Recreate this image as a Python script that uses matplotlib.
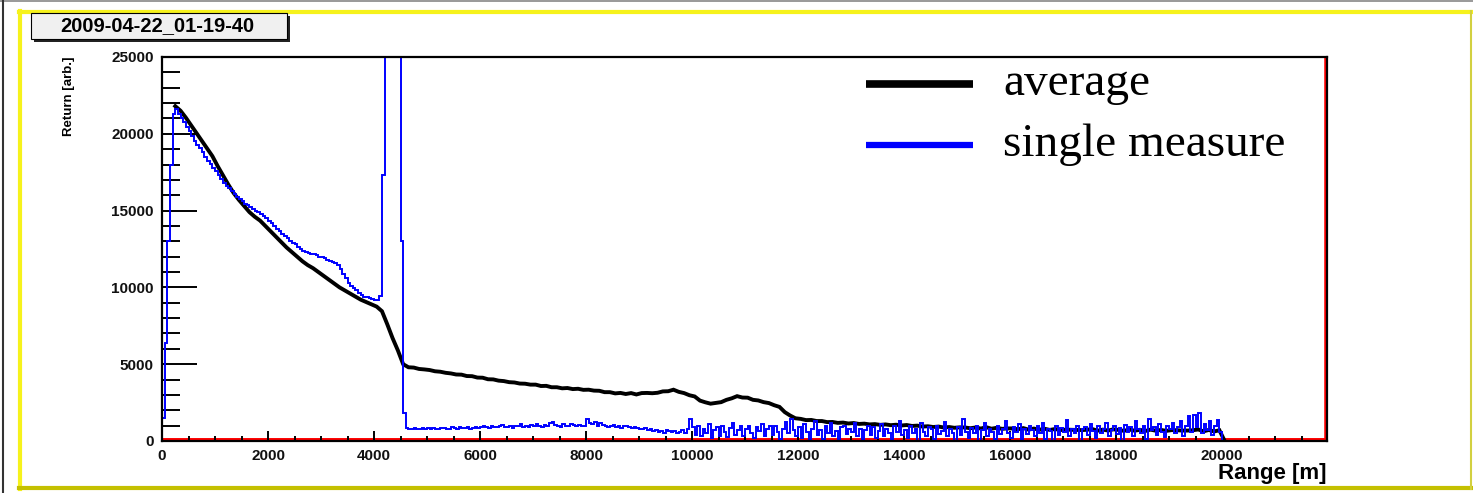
import numpy as np
import matplotlib
matplotlib.use("Agg")
import matplotlib.pyplot as plt
from matplotlib.patches import Rectangle
from matplotlib.lines import Line2D
from matplotlib.ticker import MultipleLocator, FuncFormatter

W, H = 1473, 493

# ---------------- data ----------------
title_text = "2009-04-22_01-19-40"
ylabel_text = "Return [arb.]"
xlabel_text = "Range [m]"
legend_labels = ["average", "single measure"]

# average: 100 m bins starting at 200 m (value per bin)
avg_start = 200
avg_bin = 100
avg_values = [
    21800, 21500, 21050, 20550, 20050, 19550, 19050, 18550,
    17900, 17300, 16700, 16150, 15700, 15300, 14900, 14600, 14350, 14000,
    13650, 13300, 12950, 12600, 12300, 12000, 11700, 11450, 11250, 11000,
    10750, 10500, 10250, 10000, 9800, 9600, 9400, 9200, 9050, 8900,
    8750, 8450, 7600, 6700, 5900, 5000, 4800, 4780, 4690, 4660,
    4620, 4540, 4510, 4440, 4400, 4330, 4320, 4230, 4220, 4130,
    4120, 4020, 4010, 3930, 3900, 3830, 3810, 3740, 3730, 3670,
    3670, 3580, 3590, 3500, 3500, 3430, 3450, 3380, 3400, 3330,
    3340, 3280, 3270, 3180, 3180, 3100, 3130, 3060, 3120, 3030,
    3120, 3130, 3110, 3140, 3230, 3240, 3340, 3200, 3120, 2980,
    2900, 2630, 2520, 2430, 2480, 2530, 2680, 2780, 2920, 2830,
    2820, 2680, 2640, 2530, 2470, 2330, 2220, 1880, 1660, 1480,
    1440, 1360, 1370, 1300, 1300, 1230, 1240, 1180, 1200, 1140,
    1170, 1110, 1130, 1080, 1100, 1050, 1080, 1030, 1060, 1010,
    1040, 980, 1000, 940, 960, 910, 940, 880, 910, 860,
    890, 880, 830, 880, 810, 900, 800, 860, 790, 820,
    820, 760, 840, 740, 810, 730, 800, 720, 780, 710,
    740, 730, 720, 710, 730, 780, 670, 740, 680, 760,
    720, 660, 750, 670, 730, 650, 740, 670, 720, 660,
    710, 700, 680, 680, 700, 750, 630, 720, 620, 700,
    0,
]

# single measure: 50 m bins starting at 0 m
single_start = 0
single_bin = 50
single_values = [
    1500, 6400, 13000, 18000, 21300, 21600, 21300, 21050, 20750, 20450,
    20150, 19850, 19550, 19300, 19100, 18800, 18500, 18250, 18050, 17800,
    17550, 17300, 17050, 16800, 16600, 16450, 16250, 16050, 15900, 15750,
    15600, 15450, 15350, 15250, 15100, 15000, 14900, 14800, 14650, 14500,
    14350, 14200, 14000, 13800, 13650, 13500, 13350, 13200, 13050, 12900,
    12800, 12650, 12500, 12400, 12300, 12250, 12200, 12150, 12100, 12000,
    11950, 11900, 11800, 11700, 11650, 11600, 11450, 11200, 10900, 10600,
    10300, 10100, 9950, 9800, 9650, 9500, 9400, 9350, 9300, 9250,
    9200, 9150, 9450, 17300, 60000, 60000, 60000, 60000, 60000, 60000,
    13000, 1800, 850, 800, 780, 820, 760, 800, 830, 790,
    820, 780, 850, 800, 760, 830, 870, 790, 810, 880,
    840, 760, 900, 820, 850, 930, 800, 870, 900, 850,
    880, 950, 900, 860, 1000, 920, 880, 960, 1050, 900,
    930, 980, 870, 1000, 950, 1080, 920, 980, 900, 1020,
    960, 1100, 1000, 930, 1050, 980, 1150, 1250, 1050, 1000,
    920, 1080, 1000, 950, 1100, 1020, 980, 1060, 950, 1000,
    1400, 1200, 1100, 1250, 1000, 1150, 1050, 1000, 900, 950,
    1050, 900, 980, 850, 1000, 950, 880, 820, 900, 850,
    800, 750, 850, 700, 780, 650, 720, 600, 680, 550,
    700, 620, 580, 650, 500, 600, 700, 550, 800, 1450,
    900, 400, 1000, 300, 800, 500, 1100, 200, 700, 900,
    350, 1000, 600, 250, 850, 1200, 400, 700, 950, 300,
    800, 1000, 500, 200, 900, 650, 1100, 300, 750, 950,
    400, 1000, 600, 150, 800, 1250, 500, 1400, 700, 300,
    900, 200, 1100, 600, 0, 800, 1300, 400, 700, 100,
    950, 500, 1200, 300, 650, 0, 900, 1000, 450, 750,
    600, 1200, 300, 800, 0, 700, 1000, 400, 900, 200,
    650, 1100, 350, 800, 500, 0, 950, 600, 1300, 400,
    700, 200, 1000, 500, 800, 0, 1150, 600, 300, 900,
    750, 100, 1000, 450, 650, 1250, 300, 800, 550, 0,
    900, 400, 1400, 600, 200, 850, 500, 1000, 0, 700,
    1150, 300, 800, 600, 100, 950, 450, 750, 1300, 500,
    200, 900, 600, 1100, 0, 800, 450, 1000, 700, 300,
    950, 550, 1200, 150, 800, 650, 0, 1000, 400, 850,
    600, 1350, 300, 800, 500, 1000, 0, 750, 900, 400,
    1100, 650, 200, 950, 500, 800, 1200, 300, 700, 1000,
    450, 850, 0, 1050, 600, 900, 300, 1300, 750, 500,
    1000, 150, 1400, 700, 900, 400, 1100, 600, 250, 1000,
    800, 1200, 500, 900, 1300, 300, 1000, 1650, 600, 1700,
    900, 1800, 500, 1100, 700, 1300, 400, 1000, 1350, 600,
]

x_major = 2000
x_minor = 500
y_major = 5000
y_minor = 1000
x_max = 21980
y_max = 25000

# ---------------- figure ----------------
plt.rcParams['font.family'] = ['Liberation Sans', 'DejaVu Sans']
fig = plt.figure(figsize=(W / 100, H / 100), dpi=100)
fig.patch.set_facecolor('white')


def fx(px):
    return px / W


def fy(py):
    return 1 - py / H


# outer borders
fig.add_artist(Line2D([0, 1], [fy(0.5), fy(0.5)], transform=fig.transFigure, color='#888888', lw=1.2))
fig.add_artist(Line2D([fx(3), fx(3)], [0, 1], transform=fig.transFigure, color='#333333', lw=1.5))
# yellow frame
fig.add_artist(Line2D([fx(19), fx(1471)], [fy(11.5), fy(11.5)], transform=fig.transFigure, color='#f6f21c', lw=3))
fig.add_artist(Line2D([fx(20), fx(20)], [fy(11), fy(489)], transform=fig.transFigure, color='#f6f21c', lw=3))
fig.add_artist(Line2D([fx(19), fx(1471)], [fy(488), fy(488)], transform=fig.transFigure, color='#c4c000', lw=3))
fig.add_artist(Line2D([fx(1470.5), fx(1470.5)], [fy(11), fy(489)], transform=fig.transFigure, color='#d2d040', lw=1.5))

# axes
ax = fig.add_axes([fx(162), fy(441), (1327 - 162) / W, (441 - 57) / H])
ax.set_xlim(0, x_max)
ax.set_ylim(0, y_max)

# red zero-level line and right edge
ax.axhline(0, color='red', lw=5, zorder=1)
ax.axvline(x_max, color='red', lw=4, zorder=1)

avg_edges = avg_start + avg_bin * np.arange(len(avg_values) + 1)
avg_centers = 0.5 * (avg_edges[:-1] + avg_edges[1:])
single_edges = single_start + single_bin * np.arange(len(single_values) + 1)

ax.plot(avg_centers, avg_values, color='black', lw=2.8, zorder=2, solid_joinstyle='miter')
ax.stairs(single_values, single_edges, color='#0000ff', lw=1.4, baseline=0, zorder=3)

for s in ax.spines.values():
    s.set_color('black')
    s.set_linewidth(1.6)
    s.set_zorder(5)

ax.xaxis.set_major_locator(MultipleLocator(x_major))
ax.xaxis.set_minor_locator(MultipleLocator(x_minor))
ax.yaxis.set_major_locator(MultipleLocator(y_major))
ax.yaxis.set_minor_locator(MultipleLocator(y_minor))
ax.tick_params(axis='y', which='major', direction='in', length=25, width=1.4, pad=6,
               labelsize=11, right=False)
ax.tick_params(axis='y', which='minor', direction='in', length=13, width=1.4, right=False)
ax.tick_params(axis='x', which='major', direction='in', length=7, width=1.4, pad=6,
               labelsize=11, top=False)
ax.tick_params(axis='x', which='minor', direction='in', length=3.5, width=1.4, top=False)
ax.xaxis.set_major_formatter(FuncFormatter(lambda v, p: f"{int(v)}"))
ax.yaxis.set_major_formatter(FuncFormatter(lambda v, p: f"{int(v)}"))
for lab in ax.get_xticklabels() + ax.get_yticklabels():
    lab.set_fontweight('bold')
    lab.set_color('#111111')

# axis titles
fig.text(fx(69), fy(56), ylabel_text, rotation=90, ha='center', va='top',
         fontsize=9.5, fontweight='bold')
fig.text(fx(1326), fy(473), xlabel_text, ha='right', va='center',
         fontsize=16, fontweight='bold')

# title box with shadow
fig.add_artist(Rectangle((fx(34), fy(42)), fx(290) - fx(34), fy(16) - fy(42),
                         transform=fig.transFigure, facecolor='#222222', edgecolor='none', zorder=3))
fig.add_artist(Rectangle((fx(31), fy(39)), fx(287) - fx(31), fy(13) - fy(39),
                         transform=fig.transFigure, facecolor='#f0f0f0', edgecolor='black', lw=0.8, zorder=4))
fig.text(fx(157), fy(26), title_text, ha='center', va='center', fontsize=14.5,
         fontweight='bold', zorder=5)

# legend
leg_colors = ['black', '#0000ff']
leg_widths = [5.5, 4.5]
leg_y = [84, 145]
for lab, c, lw, yy in zip(legend_labels, leg_colors, leg_widths, leg_y):
    fig.add_artist(Line2D([fx(866), fx(973)], [fy(yy), fy(yy)], transform=fig.transFigure,
                          color=c, lw=lw, solid_capstyle='butt'))
    fig.text(fx(1003), fy(yy), lab, ha='left', va='center', fontsize=34,
             family=['Liberation Serif', 'DejaVu Serif'])

fig.savefig('out.png', dpi=100)
